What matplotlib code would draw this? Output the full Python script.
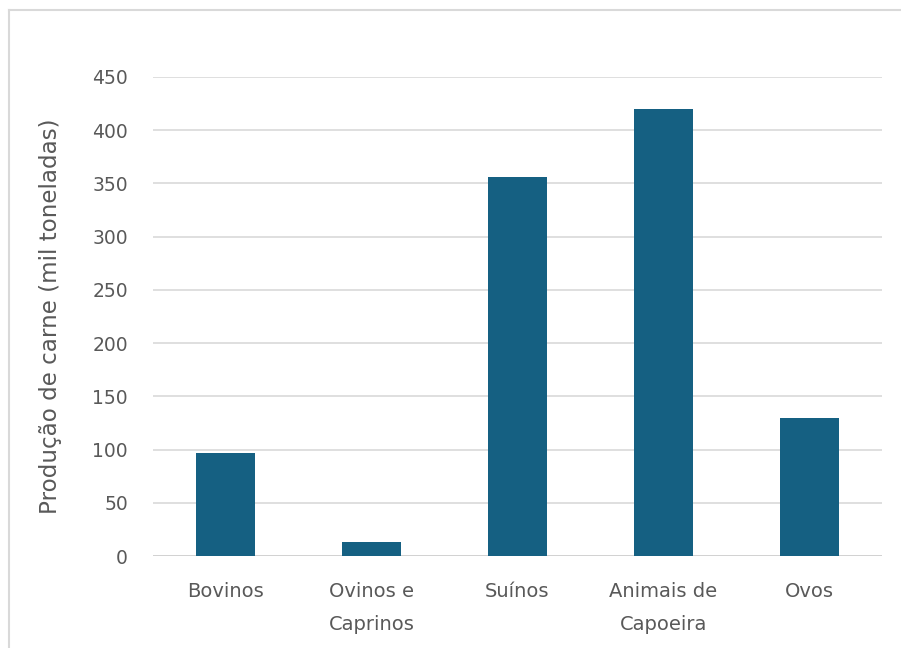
import matplotlib
matplotlib.use("Agg")
import matplotlib.pyplot as plt
from matplotlib.lines import Line2D

categories = ["Bovinos", "Ovinos e\nCaprinos", "Suínos", "Animais de\nCapoeira", "Ovos"]
values = [97, 13, 356, 420, 130]
yticks = [0, 50, 100, 150, 200, 250, 300, 350, 400, 450]

plt.rcParams['font.family'] = ['DejaVu Sans']
text_color = "#595959"

fig = plt.figure(figsize=(9.01, 6.48), dpi=100)
ax = fig.add_axes([153/901, 1-556/648, (882-153)/901, (556-77)/648])

x = list(range(len(categories)))
ax.bar(x, values, width=0.404, color="#156082", zorder=3)

ax.set_xlim(-0.5, len(categories)-0.5)
ax.set_ylim(0, 450)
ax.set_yticks(yticks)
ax.set_yticklabels([str(v) for v in yticks])
ax.set_xticks(x)
ax.set_xticklabels(categories, linespacing=1.9)
ax.tick_params(axis='y', length=0, pad=18, labelsize=13.5, labelcolor=text_color)
ax.tick_params(axis='x', length=0, pad=19, labelsize=14, labelcolor=text_color)
ax.yaxis.grid(True, color="#d9d9d9", linewidth=1.2, zorder=0)
for s in ax.spines.values():
    s.set_visible(False)
ax.axhline(0, color="#d0d0d0", linewidth=1.2, zorder=2)

ax.set_ylabel("Produção de carne (mil toneladas)", fontsize=16.6, color=text_color, labelpad=22)

# outer frame (partially visible)
fig.add_artist(Line2D([9/901, 9/901], [0, 1-10/648], transform=fig.transFigure, color="#d9d9d9", linewidth=1.5))
fig.add_artist(Line2D([9/901, 1], [1-10/648, 1-10/648], transform=fig.transFigure, color="#d9d9d9", linewidth=1.5))

fig.savefig("out.png", dpi=100)
